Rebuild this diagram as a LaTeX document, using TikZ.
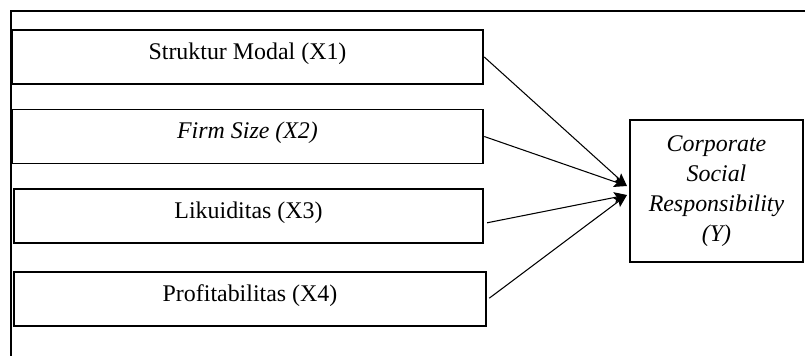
\documentclass[tikz,border=0pt]{standalone}
\usepackage{fontspec}
\setmainfont{Liberation Serif}
\usetikzlibrary{arrows.meta}

\tikzset{
  varbox/.style={draw, line width=0.9pt, minimum height=1.35cm,
    text height=0.4cm, text depth=0.3cm, inner sep=0pt, outer sep=0pt,
    font=\fontsize{17}{21.3}\selectfont},
  link/.style={line width=0.75pt, -{Stealth[length=0.32cm,width=0.27cm,inset=0.06cm]}}
}

\begin{document}
\begin{tikzpicture}[x=0.025cm, y=-0.025cm]
    \useasboundingbox (0,0) rectangle (805,356);
    % Draw the outer frame (top and left sides only)
    \draw[line width=1pt] (11,356) -- (11,11) -- (805,11);

    % Draw the independent variables
    \node[varbox, minimum width=11.775cm] (x1) at (247.5,57) {Struktur Modal (X1)};
    \node[varbox, minimum width=11.775cm] (x2) at (247.5,136.5) {\itshape Firm Size (X2)};
    \node[varbox, minimum width=11.725cm] (x3) at (248.5,216) {Likuiditas (X3)};
    \node[varbox, minimum width=11.8cm] (x4) at (250,299) {Profitabilitas (X4)};

    % Draw the dependent variable
    \node[draw, line width=0.9pt, align=center, inner sep=0pt, outer sep=0pt,
      minimum width=4.325cm, minimum height=3.55cm,
      font=\fontsize{17}{21.3}\selectfont\itshape] (y) at (716.5,191)
      {Corporate\\Social\\Responsibility\\(Y)};

    % Arrow tips next to the left side of Y
    \coordinate (tipup) at ([xshift=-0.075cm,yshift=0.125cm]y.west);
    \coordinate (tipdn) at ([xshift=-0.075cm,yshift=-0.1cm]y.west);

    % Draw the arrows
    \draw[link] ([xshift=0.03cm]x1.east) -- (tipup);
    \draw[link] ([xshift=0.03cm]x2.east) -- (tipup);
    \draw[link] ([xshift=0.1cm,yshift=-0.17cm]x3.east) -- (tipdn);
    \draw[link] ([xshift=0.08cm,yshift=0.02cm]x4.east) -- (tipdn);
\end{tikzpicture}
\end{document}
